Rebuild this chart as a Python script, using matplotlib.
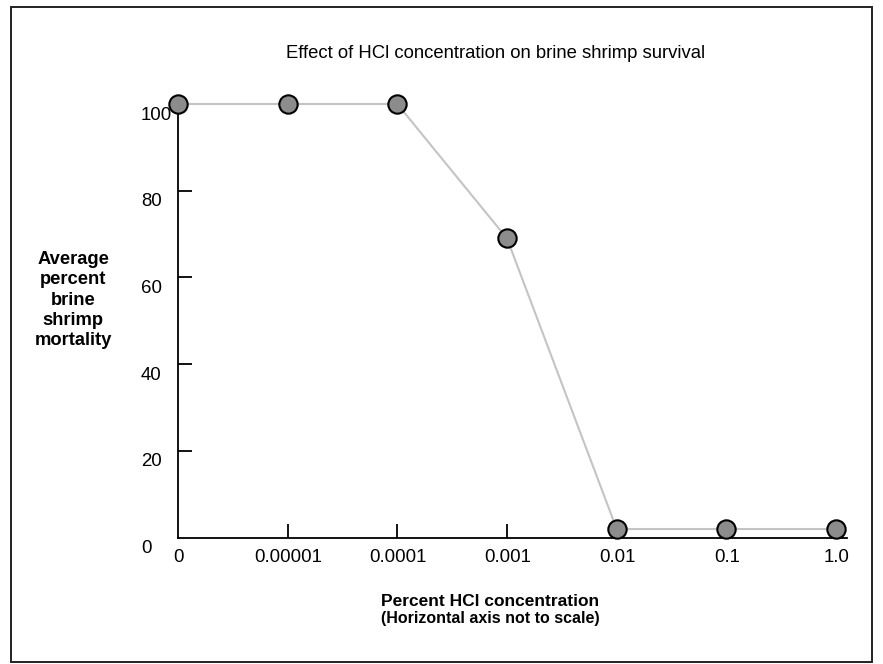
import matplotlib
matplotlib.use("Agg")
import matplotlib.pyplot as plt
from matplotlib.patches import Rectangle

plt.rcParams['font.family'] = ['Liberation Sans', 'DejaVu Sans']

# HCl concentration (percent) and mean brine shrimp mortality (percent)
concentrations = ["0", "0.00001", "0.0001", "0.001", "0.01", "0.1", "1.0"]
mortality = [100, 100, 100, 69, 2, 2, 2]
y_ticks = [0, 20, 40, 60, 80, 100]
y_labels = ["0", "20", "40", "60", "80", "100"]

W, H = 883, 664
fig = plt.figure(figsize=(W / 100, H / 100), dpi=100)
fig.patch.set_facecolor("white")

ax = fig.add_axes([178 / W, (H - 537.7) / H, (847 - 178) / W, (537.7 - 104) / H])
positions = list(range(len(concentrations)))

ax.plot(positions, mortality, color="#c4c4c4", lw=1.5, zorder=2, clip_on=False)
ax.plot(positions, mortality, linestyle="none", marker="o", markersize=13.2,
        markerfacecolor="#8c8c8c", markeredgecolor="black", markeredgewidth=1.5,
        zorder=4, clip_on=False)

ax.set_xlim(0, 6.1)
ax.set_ylim(0, 100)
for side in ("top", "right"):
    ax.spines[side].set_visible(False)
for side in ("left", "bottom"):
    ax.spines[side].set_linewidth(1.3)
    ax.spines[side].set_zorder(3)

ax.set_xticks(positions[1:])
ax.set_yticks(y_ticks[1:])
ax.tick_params(direction="in", length=10, width=1.3, labelleft=False, labelbottom=False)

# tick labels (value labels on the y axis are left-aligned in a column)
for v, lab in zip(y_ticks, y_labels):
    ax.annotate(lab, xy=(0, v), xycoords=("axes fraction", "data"),
                xytext=(-37, -11), textcoords="offset pixels",
                ha="left", va="center", fontsize=13.4)
for p, lab in zip(positions, concentrations):
    ax.annotate(lab, xy=(p, 0), xycoords="data",
                xytext=(1, -20), textcoords="offset pixels",
                ha="center", va="center", fontsize=13.4)

fig.text(496 / W, 1 - 53 / H, "Effect of HCl concentration on brine shrimp survival",
         ha="center", va="center", fontsize=13.3)
fig.text(73 / W, 1 - 300 / H, "Average\npercent\nbrine\nshrimp\nmortality",
         ha="center", va="center", fontsize=13.2, fontweight="bold", linespacing=1.25)
fig.text(490 / W, 1 - 601 / H, "Percent HCl concentration",
         ha="center", va="center", fontsize=12.5, fontweight="bold")
fig.text(490 / W, 1 - 619 / H, "(Horizontal axis not to scale)",
         ha="center", va="center", fontsize=11.5, fontweight="bold")

fig.patches.append(Rectangle((11 / W, 1 - 662 / H), (872 - 11) / W, (662 - 7) / H,
                             transform=fig.transFigure, fill=False,
                             edgecolor="#222222", linewidth=1.4))

fig.savefig("out.png", dpi=100)
